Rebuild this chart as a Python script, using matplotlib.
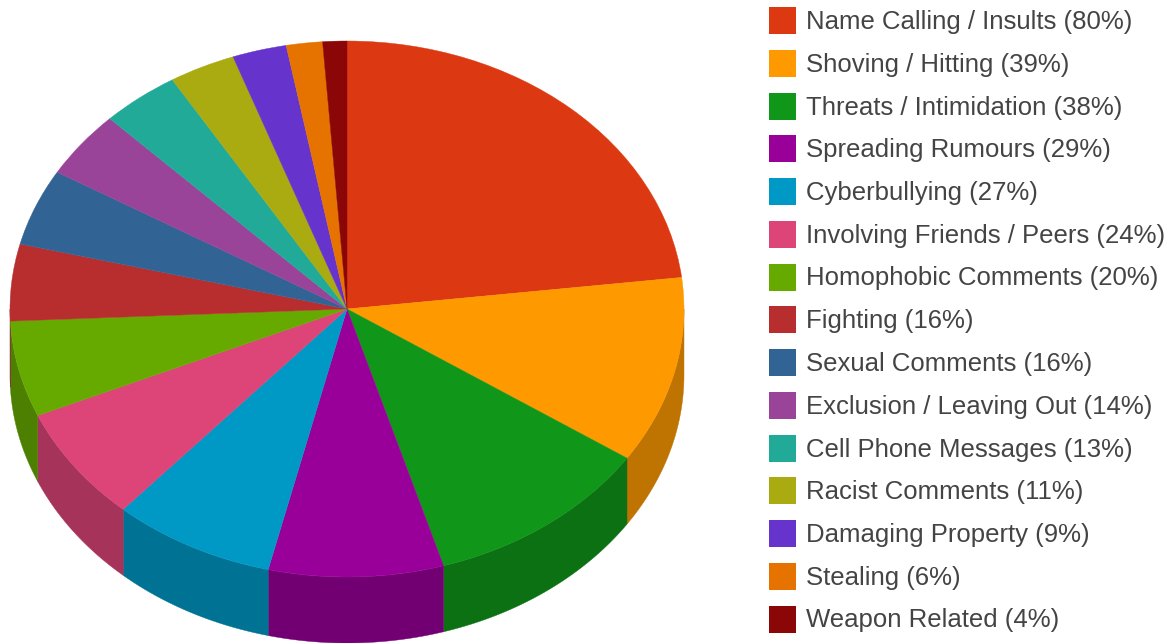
import numpy as np
import matplotlib
matplotlib.use('Agg')
import matplotlib.pyplot as plt
from matplotlib.colors import to_rgb
from matplotlib.patches import Rectangle

W, H = 1174, 643

labels = ['Name Calling / Insults', 'Shoving / Hitting', 'Threats / Intimidation',
          'Spreading Rumours', 'Cyberbullying', 'Involving Friends / Peers',
          'Homophobic Comments', 'Fighting', 'Sexual Comments',
          'Exclusion / Leaving Out', 'Cell Phone Messages', 'Racist Comments',
          'Damaging Property', 'Stealing', 'Weapon Related']
values = [80, 39, 38, 29, 27, 24, 20, 16, 16, 14, 13, 11, 9, 6, 4]
colors = ['#DC3912', '#FF9900', '#109618', '#990099', '#0099C6',
          '#DD4477', '#66AA00', '#B82E2E', '#316395', '#994499',
          '#22AA99', '#AAAA11', '#6633CC', '#E67300', '#8B0707']

fig = plt.figure(figsize=(W / 100, H / 100), dpi=100)

# pie ellipse, in pixels of the picture
cx, cy, rx, ry, depth = 347, 309, 337, 268, 66

ax = fig.add_axes([(cx - rx) / W, 1 - (cy + ry) / H, 2 * rx / W, 2 * ry / H])
ax.pie(values, colors=colors, startangle=90, counterclock=False, radius=1,
       wedgeprops={'linewidth': 0.3, 'zorder': 3})
for w, c in zip(ax.patches, colors):
    w.set_edgecolor(c)
ax.set_aspect('auto')
ax.set_xlim(-1, 1)
ax.set_ylim(-1, 1)

# front wall of each slice, only the lower half of the ellipse shows
d = depth / ry
edges = np.cumsum([0] + values) / sum(values) * 2 * np.pi
for a0, a1, c in zip(edges[:-1], edges[1:], colors):
    lo, hi = max(a0, np.pi / 2), min(a1, 3 * np.pi / 2)
    if lo >= hi:
        continue
    t = np.linspace(lo, hi, 60)
    x = np.sin(t)
    y = np.cos(t)
    wall = np.array(to_rgb(c)) * 0.75
    ax.fill(np.r_[x, x[::-1]], np.r_[y, y[::-1] - d], color=wall,
            linewidth=0.3, zorder=2, clip_on=False)

# legend in pixel coordinates
lg = fig.add_axes([0, 0, 1, 1], facecolor='none')
lg.set_xlim(0, W)
lg.set_ylim(H, 0)
lg.axis('off')
for i, (name, v, c) in enumerate(zip(labels, values, colors)):
    y = 20.5 + i * 42.75
    lg.add_patch(Rectangle((768.5, y - 13.5), 27, 27, color=c, linewidth=0))
    lg.text(806, y + 8.5, f'{name} ({v}%)', family='Liberation Sans', fontsize=18.5,
            color='#444444', va='baseline', ha='left')

fig.savefig('out.png', dpi=100)
